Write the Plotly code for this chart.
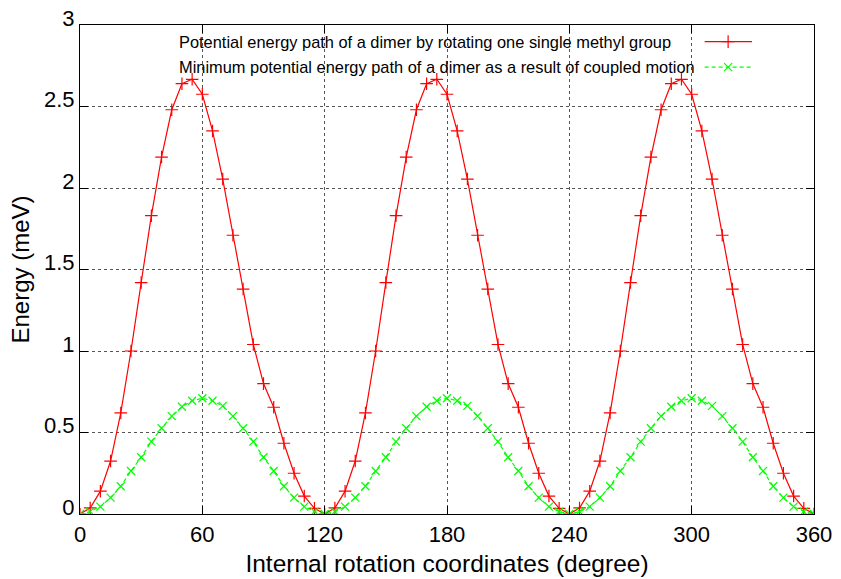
import plotly.graph_objects as go

# Rotation angle (degrees), every 5 degrees
angle = list(range(0, 361, 5))

# Potential energy path by rotating one single methyl group (meV)
single_rot = [
    0.0, 0.037, 0.14, 0.325, 0.62, 1.00, 1.42, 1.83, 2.19, 2.48, 2.64, 2.667, 2.575,
    2.35, 2.055, 1.71, 1.38, 1.04, 0.80, 0.655, 0.434, 0.25, 0.11, 0.035,
    0.0, 0.037, 0.14, 0.325, 0.62, 1.00, 1.42, 1.83, 2.19, 2.48, 2.64, 2.667, 2.575,
    2.35, 2.055, 1.71, 1.38, 1.04, 0.80, 0.655, 0.434, 0.25, 0.11, 0.035,
    0.0, 0.037, 0.14, 0.325, 0.62, 1.00, 1.42, 1.83, 2.19, 2.48, 2.64, 2.667, 2.575,
    2.35, 2.055, 1.71, 1.38, 1.04, 0.80, 0.655, 0.434, 0.25, 0.11, 0.035,
    0.0,
]

# Minimum potential energy path from coupled motion (meV)
coupled = [
    0.0, 0.015, 0.045, 0.10, 0.17, 0.264, 0.348, 0.444, 0.526, 0.60, 0.658, 0.695, 0.71,
    0.695, 0.663, 0.60, 0.526, 0.444, 0.348, 0.264, 0.17, 0.10, 0.045, 0.015,
    0.0, 0.015, 0.045, 0.10, 0.17, 0.264, 0.348, 0.444, 0.526, 0.60, 0.658, 0.695, 0.71,
    0.695, 0.663, 0.60, 0.526, 0.444, 0.348, 0.264, 0.17, 0.10, 0.045, 0.015,
    0.0, 0.015, 0.045, 0.10, 0.17, 0.264, 0.348, 0.444, 0.526, 0.60, 0.658, 0.695, 0.71,
    0.695, 0.663, 0.60, 0.526, 0.444, 0.348, 0.264, 0.17, 0.10, 0.045, 0.015,
    0.0,
]

labels = [
    "Potential energy path of a dimer by rotating one single methyl group",
    "Minimum potential energy path of a dimer as a result of coupled motion",
]
x_ticks = [0, 60, 120, 180, 240, 300, 360]
y_ticks = [0, 0.5, 1, 1.5, 2, 2.5, 3]
y_tick_text = ["0", "0.5", "1", "1.5", "2", "2.5", "3"]

FONT = "Liberation Sans, Arial, Helvetica, sans-serif"
RED = "#ff0000"
GREEN = "#00ff00"

fig = go.Figure()

fig.add_trace(go.Scatter(
    x=angle, y=single_rot, mode="lines+markers",
    line=dict(color=RED, width=1.2),
    marker=dict(symbol="cross-thin", size=9, line=dict(color=RED, width=1.2)),
    showlegend=False,
))
fig.add_trace(go.Scatter(
    x=angle, y=coupled, mode="lines+markers",
    line=dict(color=GREEN, width=1.2, dash="4px,3px"),
    marker=dict(symbol="x-thin", size=8, line=dict(color=GREEN, width=1.2)),
    showlegend=False,
))

# Legend (gnuplot-style key: text then sample) drawn on a hidden overlay axis
key_rows = [0.966, 0.914]
key_line = [0.851, 0.9155]
key_mark = 0.883
key_text_x = 0.132
fig.add_trace(go.Scatter(
    x=key_line, y=[key_rows[0]] * 2, mode="lines", xaxis="x2", yaxis="y2",
    line=dict(color=RED, width=1.2), showlegend=False, hoverinfo="skip",
))
fig.add_trace(go.Scatter(
    x=[key_mark], y=[key_rows[0]], mode="markers", xaxis="x2", yaxis="y2",
    marker=dict(symbol="cross-thin", size=9, line=dict(color=RED, width=1.2)),
    showlegend=False, hoverinfo="skip",
))
fig.add_trace(go.Scatter(
    x=key_line, y=[key_rows[1]] * 2, mode="lines", xaxis="x2", yaxis="y2",
    line=dict(color=GREEN, width=1.2, dash="4px,3px"), showlegend=False, hoverinfo="skip",
))
fig.add_trace(go.Scatter(
    x=[key_mark], y=[key_rows[1]], mode="markers", xaxis="x2", yaxis="y2",
    marker=dict(symbol="x-thin", size=8, line=dict(color=GREEN, width=1.2)),
    showlegend=False, hoverinfo="skip",
))

for lab, yr in zip(labels, key_rows):
    fig.add_annotation(
        x=key_text_x, y=yr, xref="x2", yref="y2", text=lab, showarrow=False,
        xanchor="left", yanchor="middle", font=dict(family=FONT, size=16.4, color="#000"),
    )

axis_common = dict(
    showline=True, linecolor="#000", linewidth=1.2, mirror="allticks",
    ticks="inside", ticklen=8, tickcolor="#000", tickwidth=1,
    showgrid=True, gridcolor="#555", griddash="dot", gridwidth=1,
    zeroline=False, automargin=False,
    tickfont=dict(family=FONT, size=22, color="#000"),
)

fig.update_layout(
    width=841, height=579,
    margin=dict(l=80, r=27, t=25, b=65),
    paper_bgcolor="white", plot_bgcolor="white",
    font=dict(family=FONT, color="#000"),
    xaxis=dict(
        range=[0, 360], tickvals=x_ticks,
        title=dict(text="Internal rotation coordinates (degree)",
                   font=dict(family=FONT, size=24.5, color="#000"), standoff=9),
        **axis_common,
    ),
    yaxis=dict(
        range=[0, 3], tickvals=y_ticks, ticktext=y_tick_text, ticklabelshift=-7,
        title=dict(text="Energy (meV)", font=dict(family=FONT, size=24, color="#000"),
                   standoff=7),
        **axis_common,
    ),
    xaxis2=dict(range=[0, 1], overlaying="x", visible=False, fixedrange=True),
    yaxis2=dict(range=[0, 1], overlaying="y", visible=False, fixedrange=True),
)

fig.write_html("out.html")
